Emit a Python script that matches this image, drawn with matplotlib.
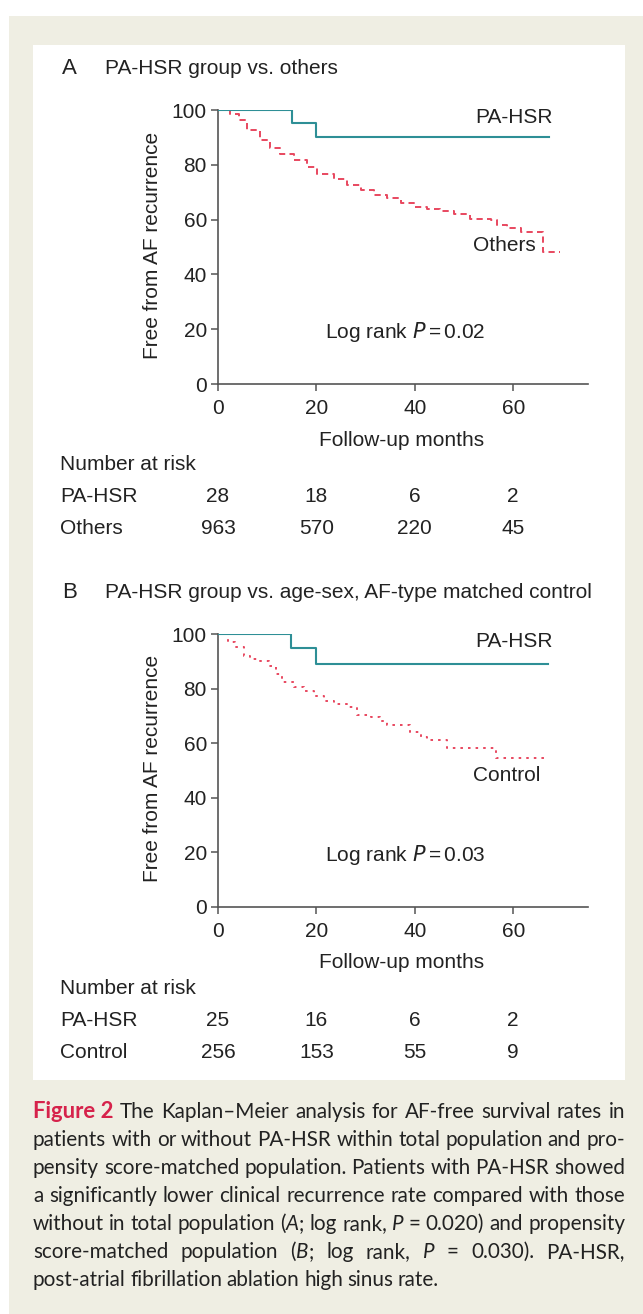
import matplotlib
matplotlib.use("Agg")
import matplotlib.pyplot as plt
import matplotlib.transforms as mtransforms
from matplotlib.patches import Rectangle

# ---- data ----
risk_months = [0, 20, 40, 60]

hsr_a_t = [0, 15.0, 20.0, 67.3]
hsr_a_s = [100, 95.2, 90.0, 90.0]
oth_a_t = [0, 2.5, 4.2, 5.9, 8.6, 10.6, 12.7, 15.4, 18.1, 20.1, 23.5, 26.2, 29.0,
           31.7, 34.4, 37.1, 39.8, 42.5, 45.2, 47.9, 51.3, 55.4, 56.7, 58.8,
           61.5, 66.1, 69.6]
oth_a_s = [100, 98.5, 96.3, 92.7, 89.0, 86.0, 83.8, 81.7, 79.3, 76.8, 74.8, 72.6,
           70.7, 69.1, 68.0, 65.9, 64.6, 63.8, 63.2, 62.0, 60.4, 59.8, 57.9, 57.0,
           55.5, 48.2, 48.2]
risk_a_hsr = [28, 18, 6, 2]
risk_a_oth = [963, 570, 220, 45]

hsr_b_t = [0, 14.9, 20.0, 67.1]
hsr_b_s = [100, 94.8, 88.9, 88.9]
ctl_b_t = [0, 2.0, 3.5, 5.2, 6.6, 8.6, 10.3, 11.7, 13.0, 15.4, 17.4, 19.5, 21.5,
           23.5, 26.2, 28.3, 31.0, 33.0, 34.4, 37.1, 39.1, 41.2, 42.5, 46.6, 56.4,
           66.2]
ctl_b_s = [100, 97.0, 95.1, 92.1, 90.9, 90.2, 88.4, 85.4, 82.3, 80.5, 79.0, 77.4,
           75.6, 74.4, 73.2, 70.4, 69.5, 68.3, 66.8, 66.5, 64.0, 62.2, 61.3, 58.2,
           54.5, 54.5]
risk_b_hsr = [25, 16, 6, 2]
risk_b_ctl = [256, 153, 55, 9]

TEAL = "#2e8f96"
RED = "#e8475f"
AXC = "#555555"
TXT = "#222222"
BEIGE = "#efeee3"

W, H = 643, 1314
plt.rcParams["font.family"] = ["Liberation Sans", "DejaVu Sans"]

fig = plt.figure(figsize=(W / 100, H / 100), dpi=100)
fig.patch.set_facecolor("white")


def fx(px):
    return px / W


def fy(py):
    return 1 - py / H


# backgrounds
fig.add_artist(Rectangle((fx(9), 0), 1 - fx(9), fy(16), transform=fig.transFigure,
                         facecolor=BEIGE, edgecolor="none", zorder=-10))
fig.add_artist(Rectangle((fx(33), fy(1080)), fx(625) - fx(33), fy(45) - fy(1080),
                         transform=fig.transFigure, facecolor="white",
                         edgecolor="none", zorder=-9))

FS = 15.0


def panel(top_px, bottom_px, letter, title, title_y, t1, s1, t2, s2, ls2,
          lab2, lab2_xy, pval, risk_y, name2, r1, r2):
    ax = fig.add_axes([fx(218), fy(bottom_px), fx(588) - fx(218), fy(top_px) - fy(bottom_px)])
    ax.set_facecolor("none")
    ax.step(t1, s1, where="post", color=TEAL, lw=1.5, zorder=3)
    ax.step(t2, s2, where="post", color=RED, lw=1.4, linestyle=ls2, zorder=2)
    ax.set_xlim(0, 75.2)
    ax.set_ylim(0, 100)
    ax.set_xticks(risk_months)
    ax.set_yticks([0, 20, 40, 60, 80, 100])
    for s in ["top", "right"]:
        ax.spines[s].set_visible(False)
    for s in ["left", "bottom"]:
        ax.spines[s].set_color(AXC)
        ax.spines[s].set_linewidth(1.2)
    ax.tick_params(colors=AXC, labelcolor=TXT, labelsize=FS, length=5, width=1.1)
    ax.tick_params(axis="x", pad=6)
    ax.tick_params(axis="y", pad=3)
    ax.text(60.2, 97.3, "PA-HSR", ha="center", va="center", fontsize=FS, color=TXT)
    ax.text(lab2_xy[0], lab2_xy[1], lab2, ha="center", va="center", fontsize=FS, color=TXT)
    ax.text(38, 19, "Log rank $\\it{P}$$\\,$=$\\,$" + pval, ha="center", va="center",
            fontsize=FS, color=TXT)

    fig.text(fx(62), fy(title_y), letter, fontsize=FS + 1, color=TXT, va="center")
    fig.text(fx(105), fy(title_y), title, fontsize=FS, color=TXT, va="center")
    fig.text(fx(152), fy((top_px + bottom_px) / 2 - 2), "Free from AF recurrence",
             rotation=90, ha="center", va="center", fontsize=FS, color=TXT)
    fig.text(fx(402), fy(bottom_px + 56), "Follow-up months", ha="center", va="center",
             fontsize=FS, color=TXT)

    tr = mtransforms.blended_transform_factory(ax.transData, fig.transFigure)
    fig.text(fx(60), fy(risk_y[0]), "Number at risk", va="center", fontsize=FS, color=TXT)
    fig.text(fx(60), fy(risk_y[1]), "PA-HSR", va="center", fontsize=FS, color=TXT)
    fig.text(fx(60), fy(risk_y[2]), name2, va="center", fontsize=FS, color=TXT)
    for m, a, b in zip(risk_months, r1, r2):
        ax.text(m, fy(risk_y[1]), str(a), transform=tr, ha="center", va="center",
                fontsize=FS, color=TXT, clip_on=False)
        ax.text(m, fy(risk_y[2]), str(b), transform=tr, ha="center", va="center",
                fontsize=FS, color=TXT, clip_on=False)
    return ax


panel(110, 384, "A", "PA-HSR group vs. others", 68, hsr_a_t, hsr_a_s, oth_a_t, oth_a_s,
      (0, (3.2, 2.2)), "Others", (58.2, 50.4), "0.02", (465, 496, 528), "Others",
      risk_a_hsr, risk_a_oth)
panel(634, 907, "B", "PA-HSR group vs. age-sex, AF-type matched control", 592,
      hsr_b_t, hsr_b_s, ctl_b_t, ctl_b_s, (0, (1.3, 2.6)), "Control", (58.6, 48),
      "0.03", (989, 1020, 1052), "Control", risk_b_hsr, risk_b_ctl)

# ---- justified caption ----
CAP_FONT = ["Lato", "DejaVu Sans"]
CFS = 14.9
caption = [
    [[("Figure 2", "fig")], [("The", "n")], [("Kaplan–Meier", "n")], [("analysis", "n")],
     [("for", "n")], [("AF-free", "n")], [("survival", "n")], [("rates", "n")], [("in", "n")]],
    "patients with or without PA-HSR within total population and pro-",
    "pensity score-matched population. Patients with PA-HSR showed",
    "a significantly lower clinical recurrence rate compared with those",
    [[("without", "n")], [("in", "n")], [("total", "n")], [("population", "n")],
     [("(", "n"), ("A", "i"), (";", "n")], [("log", "n")], [("rank,", "n")], [("P", "i")],
     [("=", "n")], [("0.020)", "n")], [("and", "n")], [("propensity", "n")]],
    [[("score-matched", "n")], [("population", "n")], [("(", "n"), ("B", "i"), (";", "n")],
     [("log", "n")], [("rank,", "n")], [("P", "i")], [("=", "n")], [("0.030).", "n")],
     [("PA-HSR,", "n")]],
    "post-atrial fibrillation ablation high sinus rate.",
]

renderer = fig.canvas.get_renderer()
x0, x1 = 33, 625
for i, line in enumerate(caption):
    if isinstance(line, str):
        line = [[(w, "n")] for w in line.split(" ")]
    yline = fy(1112 + 28 * i)
    pieces = []
    widths = []
    for word in line:
        segs = []
        wsum = 0
        for txt, sty in word:
            kw = dict(fontsize=CFS, family=CAP_FONT, color="#222222", va="center")
            if sty == "fig":
                kw.update(color="#d6224b", weight="bold", fontsize=CFS + 1)
            elif sty == "i":
                kw.update(style="italic")
            t = fig.text(0, yline, txt, **kw)
            wpx = t.get_window_extent(renderer).width
            segs.append((t, wpx))
            wsum += wpx
        pieces.append(segs)
        widths.append(wsum)
    total = sum(widths)
    last = i == len(caption) - 1
    gap = 4.5 if last else (x1 - x0 - total) / (len(pieces) - 1)
    x = x0
    for segs, wsum in zip(pieces, widths):
        xs = x
        for t, wpx in segs:
            t.set_x(fx(xs))
            xs += wpx
        x += wsum + gap

fig.savefig("out.png", dpi=100)
